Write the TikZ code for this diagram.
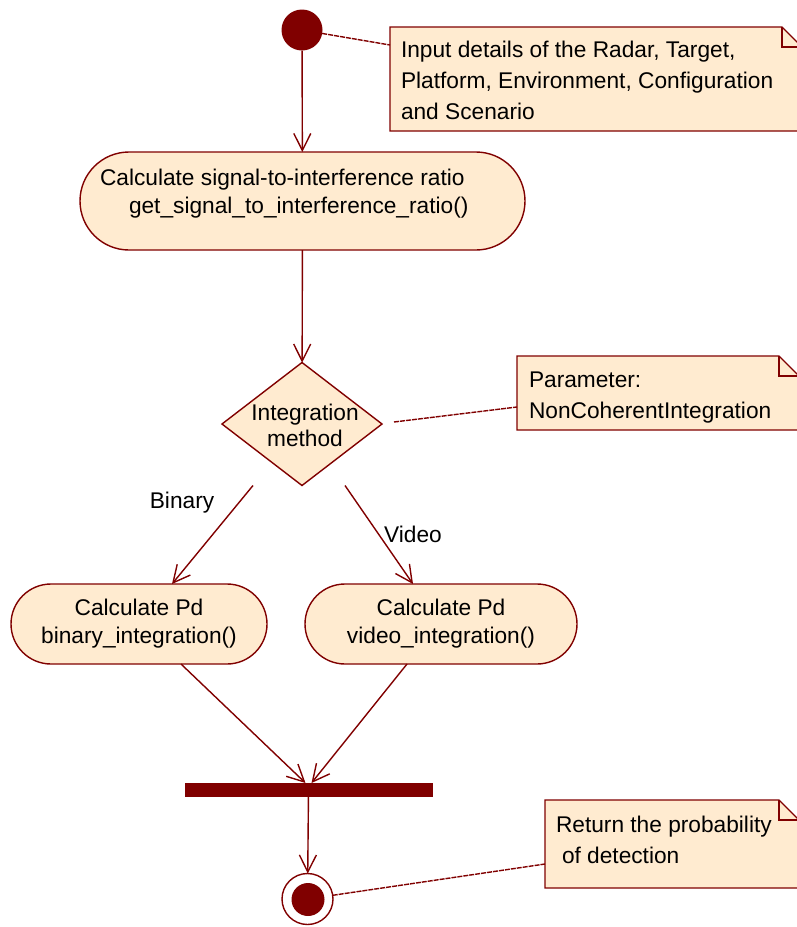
\documentclass[tikz,border=0pt]{standalone}
\usepackage{fontspec}
\setmainfont{Liberation Sans}
\usetikzlibrary{arrows.meta,shapes.geometric,calc}
\definecolor{umlred}{HTML}{800000}
\definecolor{umlfill}{HTML}{FFEBD0}
\begin{document}
\begin{tikzpicture}[x=1pt,y=-1pt,
  every node/.style={font=\fontsize{22.7}{31}\selectfont, inner sep=0pt, outer sep=0pt},
  action/.style={draw=umlred, fill=umlfill, line width=1.4pt, rectangle},
  decision/.style={draw=umlred, fill=umlfill, line width=1.4pt, diamond},
  flow/.style={draw=umlred, line width=1.4pt, -{Straight Barb[length=17pt,width=17pt,line width=1.4pt]}},
  notelink/.style={draw=umlred, line width=1.4pt, dash pattern=on 5pt off 1pt},
  notebox/.style={draw=umlred, fill=umlfill, line width=1.4pt, line join=miter},
  txt/.style={text=black, align=left}
]
\useasboundingbox (0,0) rectangle (797,927);
\clip (0,0) rectangle (797,927);

% start
\node[circle, fill=umlred, minimum size=41pt] (start) at (302,30) {};

% note 1
\draw[notebox] (390,27) -- (782,27) -- (802,47) -- (802,131) -- (390,131) -- cycle;
\draw[notebox, fill=none] (782,27) -- (782,47) -- (802,47);
\coordinate (n1) at (390,45);
\node[txt, anchor=north west] (n1t) at (401,41) {Input details of the Radar, Target,\\Platform, Environment, Configuration\\and Scenario};
\draw[notelink] (start) -- (n1);

% action 1
\node[action, minimum width=445pt, minimum height=98pt, rounded corners=49pt] (a1) at (302.5,201) {};
\node[txt, anchor=north west, font=\fontsize{22.7}{28}\selectfont] (a1t) at (100,169) {Calculate signal-to-interference ratio\\\hspace*{29pt}get\_signal\_to\_interference\_ratio()};

% decision
\node[decision, minimum width=160pt, minimum height=123pt, aspect=1.3] (dec) at (302,424) {};
\node[txt, align=center, font=\fontsize{22.7}{26}\selectfont] (dect) at (305,425) {Integration\\method};

% note 2
\draw[notebox] (517,356) -- (779,356) -- (799,376) -- (799,430) -- (517,430) -- cycle;
\draw[notebox, fill=none] (779,356) -- (779,376) -- (799,376);
\coordinate (n2) at (517,407);
\coordinate (d2) at (394,422);
\node[txt, anchor=north west] (n2t) at (529,372) {Parameter:\\NonCoherentIntegration};
\draw[notelink] (d2) -- (n2);

% actions binary / video
\node[action, minimum width=256pt, minimum height=80pt, rounded corners=40pt, align=center, font=\fontsize{22.7}{28}\selectfont] (bin) at (139,624) {Calculate Pd\\binary\_integration()};
\node[action, minimum width=272pt, minimum height=80pt, rounded corners=40pt, align=center, font=\fontsize{22.7}{28}\selectfont] (vid) at (441,624) {Calculate Pd\\video\_integration()};

% bar
\node[rectangle, fill=umlred, minimum width=248pt, minimum height=14pt] (bar) at (308.5,790) {};

% end
\node[circle, draw=umlred, fill=white, line width=1.4pt, minimum size=51pt] (end) at (307.5,899) {};
\node[circle, fill=umlred, minimum size=33pt] (endin) at (308,899.5) {};

% note 3
\draw[notebox] (545,800) -- (779,800) -- (799,820) -- (799,888) -- (545,888) -- cycle;
\draw[notebox, fill=none] (779,800) -- (779,820) -- (799,820);
\coordinate (n3) at (545,864);
\node[txt, anchor=north west] (n3t) at (556,816) {Return the probability\\\hspace*{6pt}of detection};
\draw[notelink] (end) -- (n3);

% flows
\draw[flow] (start) -- (a1);
\draw[flow] (a1) -- (dec);
\draw[flow] ($(dec.south)+(-49,0)$) -- ($(bin.north)+(33,0)$);
\node[text=black] (lb) at (182,503) {Binary};
\draw[flow] ($(dec.south)+(43,0)$) -- ($(vid.north)+(-28,0)$);
\node[text=black] (lv) at (413,534) {Video};
\draw[flow] ($(bin.south)+(42,0)$) -- ($(bar.north)+(-3,0)$);
\draw[flow] ($(vid.south)+(-34,0)$) -- ($(bar.north)+(3,0)$);
\draw[flow] (bar) -- (end);
\end{tikzpicture}
\end{document}
